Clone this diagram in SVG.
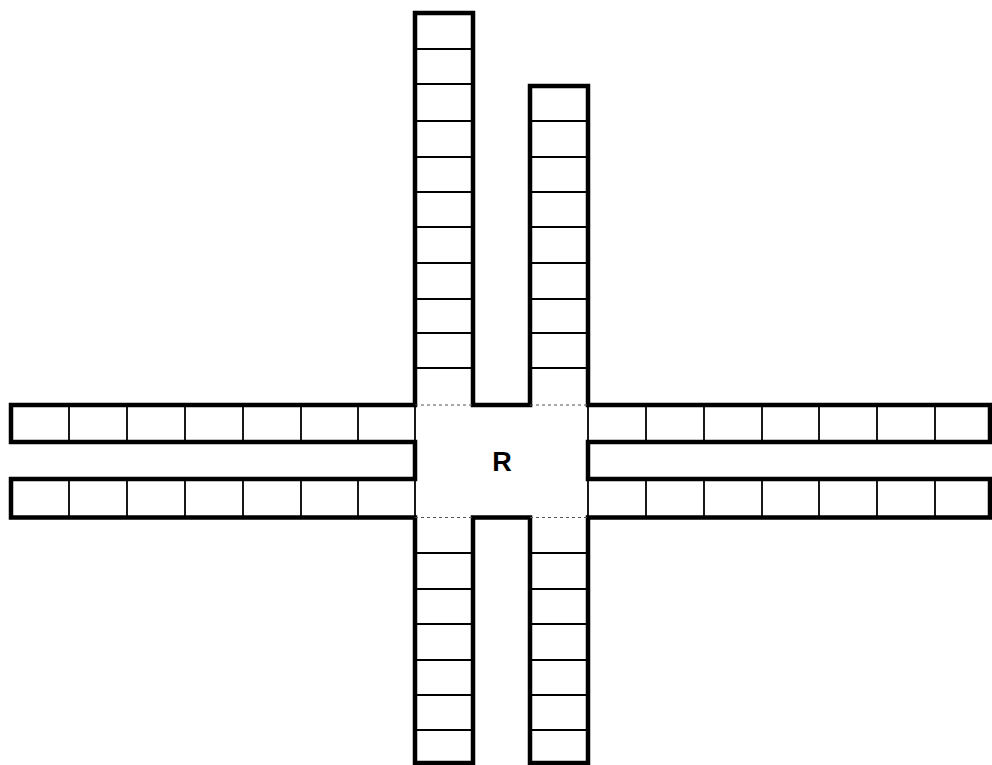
<svg xmlns="http://www.w3.org/2000/svg" width="992" height="765" viewBox="0 0 992 765">
  <style>
    .thick { fill: none; stroke: #000; stroke-width: 4.5; stroke-linejoin: miter; stroke-linecap: square; }
    .thin { fill: none; stroke: #000; stroke-width: 1.8; }
    .faint { fill: none; stroke: #555; stroke-width: 1.2; stroke-dasharray: 3 3; }
    .lbl { font-family: "Liberation Sans", Arial, sans-serif; font-weight: bold; font-size: 27px; fill: #000; }
  </style>
  <rect width="992" height="765" fill="#fff"/>

  <g id="outline">
    <path class="thick" d="M11,405 H415 V13 H473 V405 H530 V86 H588 V405 H990 V442 H588 V479 H990 V517.5 H588 V763 H530 V517.5 H473 V763 H415 V517.5 H11 V479 H415 V442 H11 Z"/>
  </g>

  <g id="center">
    <path class="faint" d="M415,405 H473 M530,405 H588 M415,517.5 H473 M530,517.5 H588"/>
    <path class="thin" d="M415,405 V442 M415,479 V517.5 M588,405 V442 M588,479 V517.5"/>
    <text class="lbl" x="502" y="470.5" text-anchor="middle">R</text>
  </g>

  <g id="top-left-column">
    <path class="thin" d="M415,49 H473 M415,84 H473 M415,121 H473 M415,157 H473 M415,192 H473 M415,227 H473 M415,263 H473 M415,299 H473 M415,333 H473 M415,368 H473"/>
  </g>

  <g id="top-right-column">
    <path class="thin" d="M530,121 H588 M530,157 H588 M530,192 H588 M530,227 H588 M530,263 H588 M530,299 H588 M530,333 H588 M530,368 H588"/>
  </g>

  <g id="left-arm">
    <path class="thin" d="M69,405 V442 M127,405 V442 M185,405 V442 M243,405 V442 M301,405 V442 M358,405 V442 M69,479 V517.5 M127,479 V517.5 M185,479 V517.5 M243,479 V517.5 M301,479 V517.5 M358,479 V517.5"/>
  </g>

  <g id="right-arm">
    <path class="thin" d="M646,405 V442 M704,405 V442 M762,405 V442 M819,405 V442 M877,405 V442 M935,405 V442 M646,479 V517.5 M704,479 V517.5 M762,479 V517.5 M819,479 V517.5 M877,479 V517.5 M935,479 V517.5"/>
  </g>

  <g id="bottom-left-column">
    <path class="thin" d="M415,553 H473 M415,589 H473 M415,624 H473 M415,660 H473 M415,695 H473 M415,730 H473"/>
  </g>

  <g id="bottom-right-column">
    <path class="thin" d="M530,553 H588 M530,589 H588 M530,624 H588 M530,660 H588 M530,695 H588 M530,730 H588"/>
  </g>
</svg>
